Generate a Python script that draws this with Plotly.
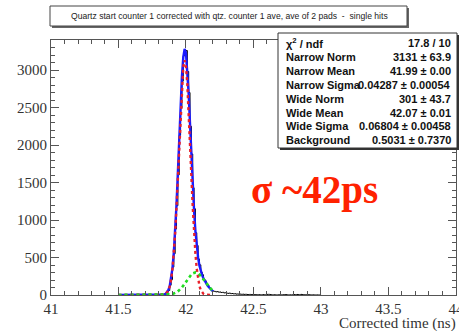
import plotly.graph_objects as go

# ---------------- data ----------------
# histogram: bin left edges (ns) and counts
hist_x = [41.50, 41.55, 41.60, 41.65, 41.70, 41.75, 41.80, 41.81, 41.82, 41.83, 41.84,
          41.85, 41.86, 41.87, 41.88, 41.89, 41.90, 41.91, 41.92, 41.93, 41.94,
          41.95, 41.96, 41.97, 41.98, 41.99, 42.00, 42.01, 42.02, 42.03, 42.04,
          42.05, 42.06, 42.07, 42.08, 42.09, 42.10, 42.11, 42.12, 42.13, 42.14,
          42.15, 42.16, 42.17, 42.18, 42.19, 42.20, 42.21, 42.22, 42.23, 42.24,
          42.25, 42.26, 42.27, 42.28, 42.29, 42.30, 42.31, 42.32, 42.33, 42.34,
          42.35, 42.36, 42.37, 42.38, 42.39, 42.40, 42.41, 42.42, 42.43, 42.44,
          42.45, 42.46, 42.47, 42.48, 42.49, 42.50, 42.51, 42.52, 42.53, 42.54,
          42.55, 42.56, 42.57, 42.58, 42.59, 42.60, 42.61, 42.62, 42.63, 42.64,
          42.65, 42.66, 42.67, 42.68, 42.69, 42.70, 42.71, 42.72, 42.73, 42.74,
          42.75, 42.76, 42.77, 42.78, 42.79, 42.80, 42.81, 42.82, 42.83, 42.84,
          42.85, 42.86, 42.87, 42.88, 42.89, 42.90, 42.91, 42.92, 42.93, 42.94,
          42.95, 42.96, 42.97, 42.98, 42.99, 43.00]
hist_y = [0, 0, 1, 0, 0, 1, 0, 1, 0, 2, 6,
          14, 38, 60, 130, 205, 372, 551, 880, 1190, 1602,
          2130, 2490, 2850, 3190, 3240, 3260, 2980, 2700, 2250, 1880,
          1430, 1150, 830, 660, 480, 402, 305, 270, 212, 190,
          148, 131, 98, 86, 60, 52, 48, 42, 45, 38,
          40, 33, 36, 28, 30, 24, 22, 25, 18, 20,
          15, 17, 12, 14, 10, 12, 9, 11, 8, 10,
          7, 6, 8, 5, 7, 6, 4, 5, 3, 4,
          3, 2, 5, 3, 4, 8, 9, 6, 3, 2,
          3, 2, 1, 2, 3, 2, 1, 4, 6, 5,
          2, 1, 2, 1, 5, 6, 4, 7, 5, 3,
          8, 6, 4, 2, 3, 5, 3, 2, 1, 2,
          1, 0, 1, 0, 1, 0]

# fitted curves, sampled along the fit range
fit_x = [41.50, 41.60, 41.70, 41.76, 41.80, 41.82, 41.84, 41.85, 41.86, 41.87, 41.88,
         41.89, 41.90, 41.91, 41.92, 41.93, 41.94, 41.95, 41.96, 41.97, 41.98,
         41.99, 42.00, 42.01, 42.02, 42.03, 42.04, 42.05, 42.06, 42.07, 42.08,
         42.09, 42.10, 42.11, 42.12, 42.13, 42.14, 42.15, 42.16, 42.17, 42.18,
         42.19, 42.20]
narrow_fit = [0, 0, 0, 0, 0.2, 1.2, 7, 15, 32, 62, 117,
              206, 346, 549, 826, 1175, 1586, 2026, 2451, 2808, 3047,
              3131, 3047, 2808, 2451, 2026, 1586, 1175, 826, 549, 346,
              206, 117, 62, 32, 15, 7, 3, 1, 0.5, 0.2,
              0, 0]
wide_fit = [0, 0, 0, 0, 0.1, 0.4, 1, 1.6, 2.6, 4, 6,
            9, 13, 19, 26, 36, 48, 63, 81, 102, 125,
            151, 177, 204, 230, 253, 273, 288, 298, 301, 298,
            288, 273, 253, 230, 204, 177, 151, 125, 102, 81,
            63, 48]
total_fit = [0.5, 0.5, 0.5, 0.5, 0.8, 2, 8, 17, 35, 67, 123,
             216, 359, 568, 853, 1212, 1635, 2090, 2533, 2911, 3173,
             3282, 3225, 3012, 2681, 2280, 1860, 1464, 1124, 850, 644,
             494, 390, 316, 262, 220, 185, 154, 127, 103, 82,
             64, 49]

stat_labels = ["χ<sup>2</sup> / ndf", "Narrow Norm", "Narrow Mean", "Narrow Sigma",
               "Wide Norm", "Wide Mean", "Wide Sigma", "Background"]
stat_values = ["17.8 / 10", "3131 ± 63.9", "41.99 ± 0.00", "0.04287 ± 0.00054",
               "301 ± 43.7", "42.07 ± 0.01", "0.06804 ± 0.00458", "0.5031 ± 0.7370"]

title_text = "Quartz start counter 1 corrected with qtz. counter 1 ave, ave of 2 pads  -  single hits"
x_title = "Corrected time (ns)"
sigma_text = "σ ~42ps"

# ---------------- layout geometry ----------------
W, H = 459, 331
ML, MR, MT, MB = 51, 3, 40, 36
PW, PH = W - ML - MR, H - MT - MB


def px(x):
    return (x - ML) / PW


def py(y):
    return (H - MB - y) / PH


fig = go.Figure()
fig.add_trace(go.Scatter(x=hist_x, y=hist_y, mode="lines", line=dict(color="black", width=1, shape="hv"),
                         showlegend=False, hoverinfo="skip"))
fig.add_trace(go.Scatter(x=fit_x, y=total_fit, mode="lines", line=dict(color="#1a1aff", width=2.4),
                         showlegend=False, hoverinfo="skip"))
fig.add_trace(go.Scatter(x=fit_x, y=narrow_fit, mode="lines", line=dict(color="#e8202a", width=2.4, dash="dot"),
                         showlegend=False, hoverinfo="skip"))
fig.add_trace(go.Scatter(x=fit_x, y=wide_fit, mode="lines", line=dict(color="#22dd22", width=2.6, dash="dot"),
                         showlegend=False, hoverinfo="skip"))

axis_font = dict(family="Liberation Serif", size=15, color="#333")
fig.update_xaxes(range=[41, 44.0005], dtick=0.5, tick0=41, ticks="inside", ticklen=8, tickcolor="#555",
                 showline=True, linecolor="#555", linewidth=1, mirror="allticks", showgrid=False,
                 zeroline=False, tickfont=axis_font, ticklabeloverflow="allow",
                 minor=dict(dtick=0.1, ticks="inside", ticklen=4, tickcolor="#555"))
fig.update_yaxes(range=[0, 3400], dtick=500, tick0=0, ticks="inside", ticklen=8, tickcolor="#555",
                 showline=True, linecolor="#555", linewidth=1, mirror="allticks", showgrid=False,
                 zeroline=False, tickfont=axis_font,
                 minor=dict(dtick=100, ticks="inside", ticklen=4, tickcolor="#555"))

shapes = []
annotations = []
# title box with shadow
shapes.append(dict(type="rect", xref="paper", yref="paper", x0=px(52), x1=px(409), y0=py(28), y1=py(8),
                   fillcolor="#666", line=dict(width=0), layer="above"))
shapes.append(dict(type="rect", xref="paper", yref="paper", x0=px(50), x1=px(407), y0=py(26), y1=py(6),
                   fillcolor="white", line=dict(color="#444", width=1), layer="above"))
annotations.append(dict(xref="paper", yref="paper", x=px(229), y=py(16), text=title_text, showarrow=False,
                        font=dict(family="Liberation Sans", size=8.6, color="#222"), xanchor="center", yanchor="middle"))

# stats box with shadow
shapes.append(dict(type="rect", xref="paper", yref="paper", x0=px(280), x1=px(459), y0=py(150), y1=py(35),
                   fillcolor="#333", line=dict(width=0), layer="above"))
shapes.append(dict(type="rect", xref="paper", yref="paper", x0=px(278), x1=px(457), y0=py(148), y1=py(33),
                   fillcolor="white", line=dict(color="#333", width=1), layer="above"))
for i, (lab, val) in enumerate(zip(stat_labels, stat_values)):
    yy = 43 + i * 13.9
    annotations.append(dict(xref="paper", yref="paper", x=px(284), y=py(yy), text="<b>" + lab + "</b>",
                            showarrow=False, xanchor="left", yanchor="middle",
                            font=dict(family="Liberation Sans", size=11, color="#111")))
    annotations.append(dict(xref="paper", yref="paper", x=px(453), y=py(yy), text="<b>" + val + "</b>",
                            showarrow=False, xanchor="right", yanchor="middle",
                            font=dict(family="Liberation Sans", size=11, color="#111")))

annotations.append(dict(xref="paper", yref="paper", x=px(314), y=py(190), text="<b>" + sigma_text + "</b>",
                        showarrow=False, xanchor="center", yanchor="middle",
                        font=dict(family="Liberation Serif", size=39, color="#ff2200")))
annotations.append(dict(xref="paper", yref="paper", x=px(458), y=py(323), text=x_title,
                        showarrow=False, xanchor="right", yanchor="middle",
                        font=dict(family="Liberation Serif", size=15, color="#333")))

fig.update_layout(width=W, height=H, margin=dict(l=ML, r=MR, t=MT, b=MB, pad=0, autoexpand=False),
                  paper_bgcolor="white", plot_bgcolor="white", shapes=shapes, annotations=annotations)

fig.write_html("out.html")
